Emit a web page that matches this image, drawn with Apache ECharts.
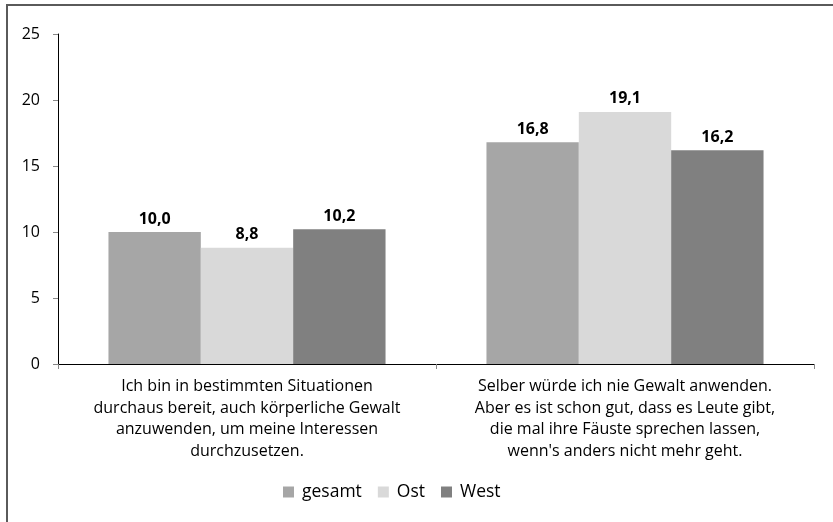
<!DOCTYPE html>
<html lang="de">
<head>
    <meta charset="UTF-8">
    <title>Gewaltbereitschaft</title>
    <script src="https://cdn.jsdelivr.net/npm/echarts/dist/echarts.min.js"></script>
    <style>
        body { margin: 0; background: #fff; }
        #chart { width: 833px; height: 522px; }
    </style>
</head>
<body>
    <div id="chart"></div>
    <script>
        // Aussagen (x-Achse)
        const categories = [
            'Ich bin in bestimmten Situationen\ndurchaus bereit, auch körperliche Gewalt\nanzuwenden, um meine Interessen\ndurchzusetzen.',
            'Selber würde ich nie Gewalt anwenden.\nAber es ist schon gut, dass es Leute gibt,\ndie mal ihre Fäuste sprechen lassen,\nwenn\'s anders nicht mehr geht.'
        ];
        const seriesNames = ['gesamt', 'Ost', 'West'];
        const gesamt = [10.0, 16.8];
        const ost = [8.8, 19.1];
        const west = [10.2, 16.2];
        const colors = ['#a6a6a6', '#d9d9d9', '#808080'];

        const font = '"Open Sans", "Noto Sans", sans-serif';
        const chart = echarts.init(document.getElementById('chart'));

        const makeSeries = (name, data, color) => ({
            name: name,
            type: 'bar',
            data: data,
            barGap: '0%',
            barCategoryGap: '26.7%',
            itemStyle: { color: color },
            label: {
                show: true,
                position: 'top',
                distance: 5,
                fontFamily: font,
                fontSize: 16,
                fontWeight: 'bold',
                color: '#000',
                formatter: p => p.value.toFixed(1).replace('.', ',')
            }
        });

        chart.setOption({
            animation: false,
            textStyle: { fontFamily: font },
            grid: { left: 58, right: 19, top: 34, bottom: 158 },
            legend: {
                data: seriesNames,
                left: 278,
                top: 478,
                itemWidth: 11,
                itemHeight: 11,
                itemGap: 16,
                icon: 'rect',
                textStyle: { fontFamily: font, fontSize: 17.5, color: '#000', padding: [0, 0, 0, 3] }
            },
            xAxis: {
                type: 'category',
                data: categories,
                axisLine: { lineStyle: { color: '#000', width: 1 } },
                axisTick: { show: true, length: 5, lineStyle: { color: '#888' } },
                axisLabel: {
                    interval: 0,
                    margin: 12,
                    fontFamily: font,
                    fontSize: 16,
                    lineHeight: 21.5,
                    color: '#000',
                    align: 'center'
                }
            },
            yAxis: {
                type: 'value',
                min: 0,
                max: 25,
                interval: 5,
                splitLine: { show: false },
                axisLine: { show: true, lineStyle: { color: '#000', width: 1 } },
                axisTick: { show: true, length: 5, lineStyle: { color: '#888' } },
                axisLabel: { fontFamily: font, fontSize: 16, color: '#000', margin: 18 }
            },
            series: [
                makeSeries(seriesNames[0], gesamt, colors[0]),
                makeSeries(seriesNames[1], ost, colors[1]),
                makeSeries(seriesNames[2], west, colors[2])
            ],
            graphic: [
                { type: 'line', shape: { x1: 6, y1: 5, x2: 833, y2: 5 }, style: { stroke: '#5a5a5a', lineWidth: 2 } },
                { type: 'line', shape: { x1: 7, y1: 4, x2: 7, y2: 522 }, style: { stroke: '#5a5a5a', lineWidth: 2 } }
            ]
        });
    </script>
</body>
</html>
